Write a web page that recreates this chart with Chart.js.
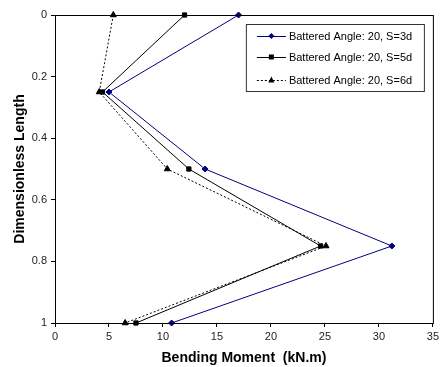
<!DOCTYPE html>
<html lang="en">
    <head>
        <meta charset="utf-8" />
        <title>Bending moment</title>
        <script src="https://cdn.jsdelivr.net/npm/chart.js@4/dist/chart.umd.min.js"></script>
        <style>
            body { margin: 0; background: #fff; }
        </style>
    </head>
    <body>
        <canvas id="moment" width="442" height="367"></canvas>

        <script>
            var depth = [0, 0.25, 0.5, 0.75, 1];
            var s3d = [17.0, 5.0, 13.9, 31.2, 10.8];
            var s5d = [12.0, 4.4, 12.4, 24.6, 7.5];
            var s6d = [5.4, 4.1, 10.4, 25.1, 6.5];
            var labels = ["Battered Angle: 20, S=3d", "Battered Angle: 20, S=5d", "Battered Angle: 20, S=6d"];

            function pts(xs) {
                return xs.map(function (x, i) { return { x: x, y: depth[i] }; });
            }

            var fontFam = "'Liberation Sans', Arial, sans-serif";

            // frame round the plot + legend box inside it
            var framePlugin = {
                id: "frame",
                afterDraw: function (chart) {
                    var ctx = chart.ctx, a = chart.chartArea;
                    ctx.save();
                    ctx.strokeStyle = "#000";
                    ctx.lineWidth = 1;
                    ctx.strokeRect(a.left + 0.5, a.top + 0.5, a.right - a.left, a.bottom - a.top);

                    var bx = a.right - 187, by = a.top + 9, bw = 178, bh = 67;
                    ctx.fillStyle = "#fff";
                    ctx.fillRect(bx, by, bw, bh);
                    ctx.strokeStyle = "#333";
                    ctx.strokeRect(bx + 0.5, by + 0.5, bw, bh);
                    ctx.font = "11px " + fontFam;
                    ctx.textBaseline = "middle";
                    var rows = [by + 12, by + 33, by + 56];
                    chart.data.datasets.forEach(function (ds, i) {
                        var y = rows[i];
                        ctx.strokeStyle = ds.borderColor;
                        ctx.setLineDash(ds.borderDash || []);
                        ctx.beginPath();
                        ctx.moveTo(bx + 11, y + 0.5);
                        ctx.lineTo(bx + 40, y + 0.5);
                        ctx.stroke();
                        ctx.setLineDash([]);
                        ctx.fillStyle = ds.pointBackgroundColor;
                        var cx = bx + 25.5;
                        ctx.beginPath();
                        if (ds.pointStyle === "rectRot") {
                            ctx.moveTo(cx, y - 3); ctx.lineTo(cx + 3, y); ctx.lineTo(cx, y + 3); ctx.lineTo(cx - 3, y);
                        } else if (ds.pointStyle === "rect") {
                            ctx.rect(cx - 2.5, y - 2.5, 5, 5);
                        } else {
                            ctx.moveTo(cx, y - 3.5); ctx.lineTo(cx + 3, y + 2.5); ctx.lineTo(cx - 3, y + 2.5);
                        }
                        ctx.fill();
                        ctx.fillStyle = "#000";
                        ctx.fillText(ds.label, bx + 43, y + 0.5);
                    });
                    ctx.restore();
                }
            };

            var ctx = document.getElementById("moment").getContext("2d");
            var chart = new Chart(ctx, {
                type: "scatter",
                data: {
                    datasets: [
                        {
                            label: labels[0],
                            data: pts(s3d),
                            showLine: true,
                            clip: false,
                            borderColor: "#000080",
                            backgroundColor: "#000080",
                            pointBackgroundColor: "#000080",
                            pointBorderColor: "#000080",
                            borderWidth: 1,
                            pointStyle: "rectRot",
                            pointRadius: 3
                        },
                        {
                            label: labels[1],
                            data: pts(s5d),
                            showLine: true,
                            clip: false,
                            borderColor: "#000",
                            backgroundColor: "#000",
                            pointBackgroundColor: "#000",
                            pointBorderColor: "#000",
                            borderWidth: 1,
                            pointStyle: "rect",
                            pointRadius: 3
                        },
                        {
                            label: labels[2],
                            data: pts(s6d),
                            showLine: true,
                            clip: false,
                            borderColor: "#000",
                            backgroundColor: "#000",
                            pointBackgroundColor: "#000",
                            pointBorderColor: "#000",
                            borderWidth: 1,
                            borderDash: [2, 2],
                            pointStyle: "triangle",
                            pointRadius: 3.5
                        }
                    ]
                },
                options: {
                    responsive: false,
                    animation: false,
                    layout: { padding: { top: 15, right: 7, left: 0, bottom: 0 } },
                    plugins: {
                        legend: { display: false },
                        tooltip: { enabled: false }
                    },
                    scales: {
                        x: {
                            type: "linear",
                            min: 0,
                            max: 35,
                            ticks: { stepSize: 5, color: "#222", font: { size: 11, family: fontFam }, padding: 3 },
                            grid: { drawOnChartArea: false, drawTicks: true, tickLength: 4, color: "#000" },
                            border: { color: "#000" },
                            title: { display: true, text: "Bending Moment  (kN.m)", color: "#000", font: { size: 14, weight: "bold", family: fontFam }, padding: { top: 6, bottom: 0 } },
                            afterFit: function (s) { s.height = 44; }
                        },
                        y: {
                            type: "linear",
                            reverse: true,
                            min: 0,
                            max: 1,
                            ticks: {
                                stepSize: 0.2, color: "#222", font: { size: 11, family: fontFam }, padding: 4,
                                callback: function (v) { return String(Math.round(v * 10) / 10); }
                            },
                            grid: { drawOnChartArea: false, drawTicks: true, tickLength: 4, color: "#000" },
                            border: { color: "#000" },
                            title: { display: true, text: "Dimensionless Length", color: "#000", font: { size: 14, weight: "bold", family: fontFam }, padding: { top: 12, bottom: 4 } },
                            afterFit: function (s) { s.width = 55; }
                        }
                    }
                },
                plugins: [framePlugin]
            });
        </script>
    </body>
</html>
